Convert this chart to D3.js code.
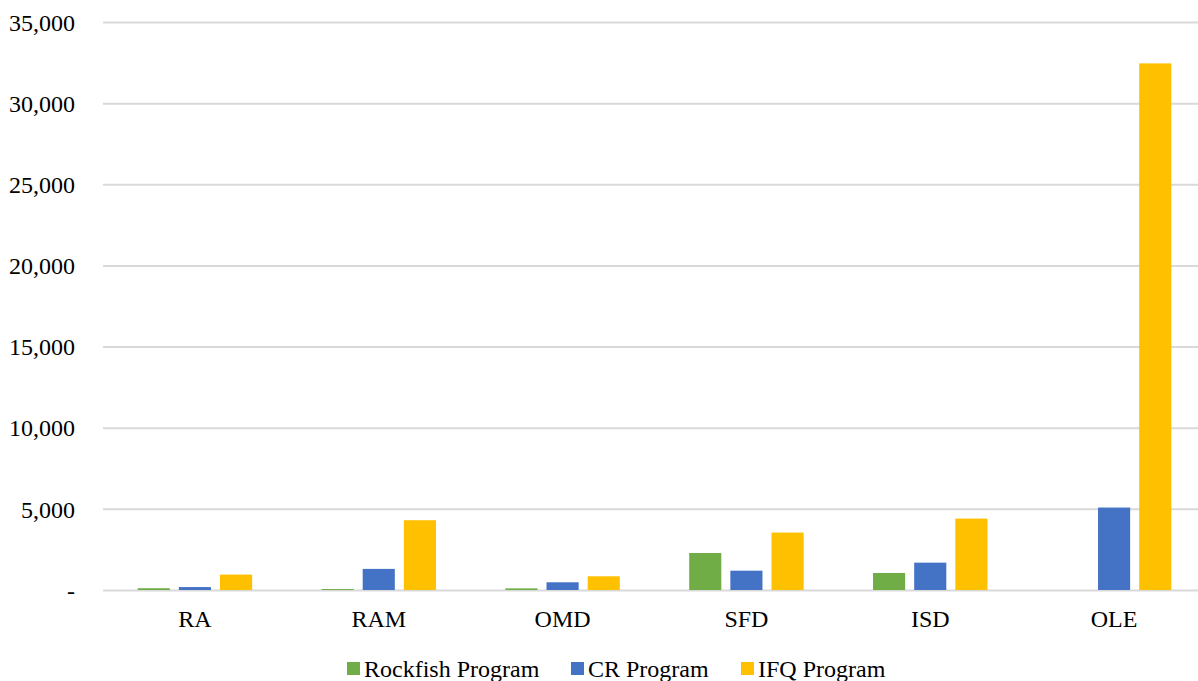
<!DOCTYPE html>
<html>
<head>
<meta charset="utf-8">
<script src="https://cdn.jsdelivr.net/npm/d3@7"></script>
<style>
  html, body { margin: 0; padding: 0; background: #fff; overflow: hidden; }
  svg { display: block; font-family: "Liberation Serif", "Times New Roman", serif; }
</style>
</head>
<body>
<svg id="chart" width="1198" height="681"></svg>
<script>
// Offices / divisions along the x axis
const categories = ["RA", "RAM", "OMD", "SFD", "ISD", "OLE"];
// One series per catch share program
const seriesNames = ["Rockfish Program", "CR Program", "IFQ Program"];
const rockfish = [110, 60, 100, 2280, 1050, 0];
const crProgram = [180, 1300, 475, 1190, 1685, 5080];
const ifqProgram = [950, 4300, 845, 3540, 4400, 32450];
const seriesColors = ["#70ad47", "#4472c4", "#ffc000"];
const yTicks = [0, 5000, 10000, 15000, 20000, 25000, 30000, 35000];

const seriesValues = [rockfish, crProgram, ifqProgram];

const svg = d3.select("#chart");
const plot = { left: 103, right: 1206, top: 22, bottom: 590 };

const x = d3.scaleBand()
  .domain(categories)
  .range([plot.left, plot.right])
  .padding(0);

const groupOffset = 34.7;
const xInner = d3.scaleBand()
  .domain(seriesNames)
  .range([groupOffset, x.bandwidth() - groupOffset])
  .paddingInner(9 / 41)
  .paddingOuter(0);

const y = d3.scaleLinear()
  .domain([0, 35000])
  .range([plot.bottom, plot.top]);

// Horizontal gridlines with value labels
const yAxis = d3.axisLeft(y)
  .tickValues(yTicks)
  .tickSize(-(plot.right - plot.left))
  .tickFormat(d => d === 0 ? "-" : d3.format(",")(d));

const gy = svg.append("g")
  .attr("transform", `translate(${plot.left},0)`)
  .call(yAxis);
gy.select(".domain").remove();
gy.selectAll(".tick line")
  .attr("stroke", "#d9d9d9")
  .attr("stroke-width", 2);
gy.selectAll(".tick text")
  .attr("x", -28)
  .attr("dy", "0.34em")
  .attr("fill", "#000")
  .style("font-size", "24px")
  .style("font-family", "'Liberation Serif', 'Times New Roman', serif");

// Bars
const groups = svg.append("g")
  .selectAll("g")
  .data(categories)
  .join("g")
  .attr("transform", d => `translate(${x(d)},0)`);

groups.selectAll("rect")
  .data((c, i) => seriesNames.map((s, k) => ({ series: s, value: seriesValues[k][i], color: seriesColors[k] })))
  .join("rect")
  .attr("x", d => xInner(d.series))
  .attr("width", xInner.bandwidth())
  .attr("y", d => y(d.value))
  .attr("height", d => y(0) - y(d.value))
  .attr("fill", d => d.color);

// Category axis labels
const xAxis = d3.axisBottom(x).tickSize(0).tickPadding(20);
const gx = svg.append("g")
  .attr("transform", `translate(0,${plot.bottom})`)
  .call(xAxis);
gx.select(".domain").remove();
gx.selectAll(".tick text")
  .attr("fill", "#000")
  .style("font-size", "24px")
  .style("font-family", "'Liberation Serif', 'Times New Roman', serif");

// Legend
const legendItems = [
  { name: seriesNames[0], color: seriesColors[0], x: 347 },
  { name: seriesNames[1], color: seriesColors[1], x: 571 },
  { name: seriesNames[2], color: seriesColors[2], x: 741 }
];
const legend = svg.append("g");
const li = legend.selectAll("g")
  .data(legendItems)
  .join("g")
  .attr("transform", d => `translate(${d.x},0)`);
li.append("rect")
  .attr("x", 0)
  .attr("y", 662)
  .attr("width", 13)
  .attr("height", 13)
  .attr("fill", d => d.color);
li.append("text")
  .attr("x", 17)
  .attr("y", 677)
  .attr("fill", "#000")
  .style("font-size", "24px")
  .text(d => d.name);
</script>
</body>
</html>
